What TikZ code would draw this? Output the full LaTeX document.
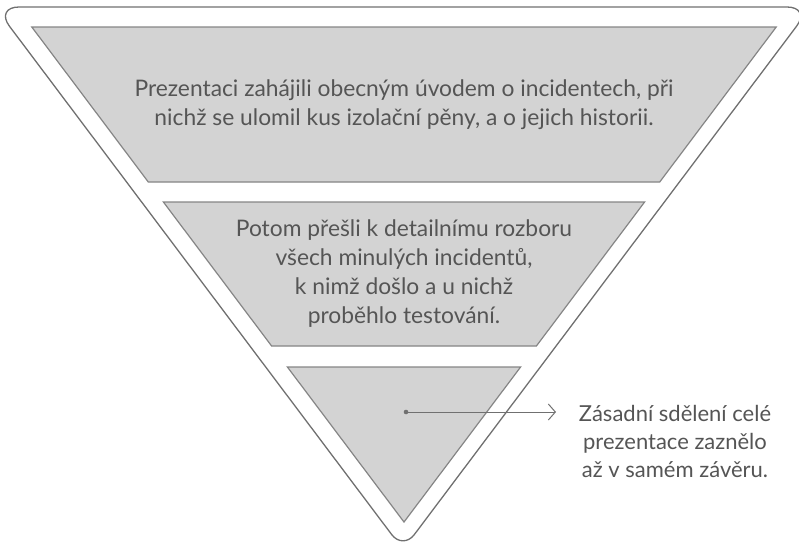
\documentclass[tikz,border=0pt]{standalone}
\usepackage{fontspec}
\setmainfont{Lato}
\usetikzlibrary{arrows.meta,calc}
\definecolor{fillgray}{HTML}{D3D3D3}
\definecolor{edgegray}{HTML}{858585}
\definecolor{outergray}{HTML}{707070}
\definecolor{txtgray}{HTML}{555555}
\begin{document}
\begin{tikzpicture}[x=1pt,y=-1pt,
  layer/.style={fill=fillgray,draw=edgegray,line width=1.2pt,line join=miter},
  outerline/.style={draw=outergray,line width=1.3pt},
  lbl/.style={text=txtgray,font=\fontsize{22.8}{29}\selectfont,align=center,inner sep=0pt},
  arrowline/.style={draw=outergray,line width=1pt}]
\useasboundingbox (0,0) rectangle (799,541);
% outer funnel outline
\coordinate (L) at (-5,7);
\coordinate (R) at (811,7);
\coordinate (T) at (403,549.6);
\coordinate (L1) at ($(L)!24pt!(R)$);
\coordinate (L2) at ($(L)!24pt!(T)$);
\coordinate (R1) at ($(R)!24pt!(L)$);
\coordinate (R2) at ($(R)!24pt!(T)$);
\coordinate (T1) at ($(T)!18.7pt!(R)$);
\coordinate (T2) at ($(T)!18.7pt!(L)$);
\draw[outerline] (L1) -- (R1)
  .. controls ($(R1)!0.55!(R)$) and ($(R2)!0.55!(R)$) .. (R2) -- (T1)
  .. controls ($(T1)!0.55!(T)$) and ($(T2)!0.55!(T)$) .. (T2) -- (L2)
  .. controls ($(L2)!0.55!(L)$) and ($(L1)!0.55!(L)$) .. (L1) -- cycle;
% layers
\path[layer] (31.8,27) -- (776.2,27) -- (659.7,182) -- (148.3,182) -- cycle;
\path[layer] (163.4,202) -- (644.6,202) -- (536.4,346) -- (271.6,346) -- cycle;
\path[layer] (287.4,367) -- (520.6,367) -- (404,522) -- cycle;
% texts
\node[lbl] (t1) at (404,104.5) {Prezentaci zahájili obecným úvodem o incidentech, při\\nichž se ulomil kus izolační pěny, a o jejich historii.};
\node[lbl] (t2) at (404,273.5) {Potom přešli k detailnímu rozboru\\všech minulých incidentů,\\k nimž došlo a u nichž\\proběhlo testování.};
\node[lbl,font=\fontsize{22}{28}\selectfont] (t3) at (675,441) {Zásadní sdělení celé\\prezentace zaznělo\\až v samém závěru.};
% pointer
\coordinate (dot) at (406,412);
\coordinate (tip) at (556,412);
\fill[outergray] (dot) circle (2.3pt);
\draw[arrowline,-{Straight Barb[length=7pt,width=16pt]}] (dot) -- (tip);
\end{tikzpicture}
\end{document}
